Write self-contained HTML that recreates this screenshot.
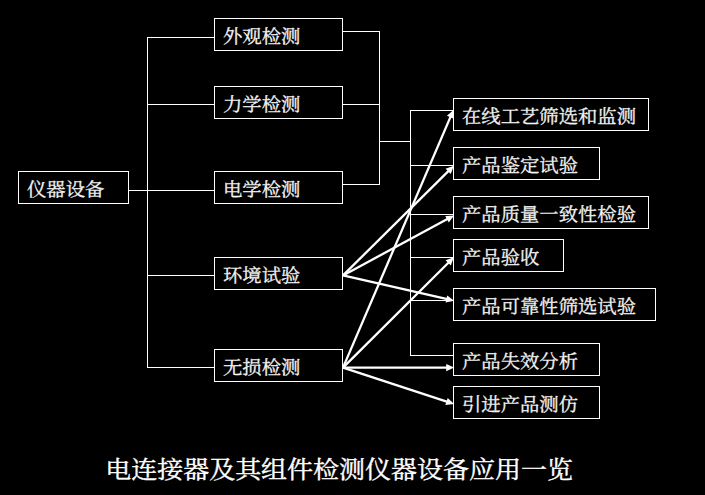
<!DOCTYPE html>
<html lang="zh-CN">
<head>
<meta charset="utf-8">
<title>电连接器及其组件检测仪器设备应用一览</title>
<style>
html,body{margin:0;padding:0;background:#000;}
body{width:705px;height:495px;overflow:hidden;position:relative;}
svg{position:absolute;left:0;top:0;display:block;}
.b{font-family:"Liberation Serif","Noto Serif CJK SC",serif;font-weight:400;font-size:19.35px;fill:#f4f4f4;stroke:#f4f4f4;stroke-width:0.32px;}
.t{font-family:"Liberation Serif","Noto Serif CJK SC",serif;font-weight:400;font-size:26px;fill:#fff;stroke:#fff;stroke-width:0.4px;}
.bx{fill:#000;stroke:#fff;stroke-width:1;shape-rendering:crispEdges;}
.ln{stroke:#fff;stroke-width:1;shape-rendering:crispEdges;fill:none;}
.ar{stroke:#fff;stroke-width:2.3;fill:none;stroke-linecap:butt;}
.ah{fill:#fff;stroke:none;}
</style>
</head>
<body>
<svg width="705" height="495" viewBox="0 0 705 495">
<rect x="0" y="0" width="705" height="495" fill="#000"/>

<g class="ln">
<line x1="128" y1="190.5" x2="215" y2="190.5"/>
<line x1="147" y1="37.5" x2="215" y2="37.5"/>
<line x1="147" y1="104.5" x2="215" y2="104.5"/>
<line x1="147" y1="275.5" x2="215" y2="275.5"/>
<line x1="147" y1="367.5" x2="215" y2="367.5"/>
<line x1="342" y1="31.5" x2="380" y2="31.5"/>
<line x1="342" y1="104.5" x2="380" y2="104.5"/>
<line x1="342" y1="184.5" x2="380" y2="184.5"/>
<line x1="379" y1="141.5" x2="411" y2="141.5"/>
<line x1="410" y1="110.5" x2="454" y2="110.5"/>
<line x1="410" y1="165.5" x2="454" y2="165.5"/>
<line x1="410" y1="214.5" x2="454" y2="214.5"/>
<line x1="410" y1="257.5" x2="454" y2="257.5"/>
<line x1="410" y1="300.5" x2="454" y2="300.5"/>
<line x1="410" y1="355.5" x2="454" y2="355.5"/>
<line x1="147.5" y1="37" x2="147.5" y2="368"/>
<line x1="379.5" y1="31" x2="379.5" y2="185"/>
<line x1="410.5" y1="110" x2="410.5" y2="356"/>
</g>
<g>
<rect class="bx" x="18.5" y="171.5" width="110" height="32"/>
<rect class="bx" x="214.5" y="18.5" width="128" height="32"/>
<rect class="bx" x="214.5" y="86.5" width="128" height="32"/>
<rect class="bx" x="214.5" y="171.5" width="128" height="32"/>
<rect class="bx" x="214.5" y="257.5" width="128" height="32"/>
<rect class="bx" x="214.5" y="349.5" width="128" height="32"/>
<rect class="bx" x="453.5" y="98.5" width="195" height="32"/>
<rect class="bx" x="453.5" y="147.5" width="146" height="32"/>
<rect class="bx" x="453.5" y="196.5" width="195" height="32"/>
<rect class="bx" x="453.5" y="239.5" width="110" height="32"/>
<rect class="bx" x="453.5" y="288.5" width="202" height="32"/>
<rect class="bx" x="453.5" y="343.5" width="146" height="32"/>
<rect class="bx" x="453.5" y="386.5" width="146" height="32"/>
</g>
<g>
<line class="ar" x1="343" y1="275.4" x2="448.88" y2="170.68"/>
<polygon class="ah" points="453.85,165.76 450.77,174.01 445.56,168.75"/>
<line class="ar" x1="343" y1="275.4" x2="447.89" y2="218.85"/>
<polygon class="ah" points="454.06,215.53 448.77,222.58 445.26,216.07"/>
<line class="ar" x1="343" y1="275.4" x2="447.35" y2="299.21"/>
<polygon class="ah" points="454.17,300.77 445.55,302.59 447.19,295.38"/>
<line class="ar" x1="343" y1="367.6" x2="450.71" y2="116.33"/>
<polygon class="ah" points="453.47,109.90 453.72,118.71 446.92,115.79"/>
<line class="ar" x1="343" y1="367.6" x2="448.89" y2="262.29"/>
<polygon class="ah" points="453.85,257.35 450.79,265.62 445.57,260.37"/>
<line class="ar" x1="343" y1="367.6" x2="447.20" y2="367.60"/>
<polygon class="ah" points="454.20,367.60 446.20,371.30 446.20,363.90"/>
<line class="ar" x1="343" y1="367.6" x2="447.49" y2="401.89"/>
<polygon class="ah" points="454.14,404.07 445.39,405.10 447.69,398.06"/>
</g>
<g class="b">
<text transform="translate(27.0,195.80) scale(1,0.935)">仪器设备</text>
<text transform="translate(223.0,42.80) scale(1,0.935)">外观检测</text>
<text transform="translate(223.0,110.80) scale(1,0.935)">力学检测</text>
<text transform="translate(223.0,195.80) scale(1,0.935)">电学检测</text>
<text transform="translate(223.0,281.80) scale(1,0.935)">环境试验</text>
<text transform="translate(223.0,373.80) scale(1,0.935)">无损检测</text>
<text transform="translate(462.0,122.80) scale(1,0.935)">在线工艺筛选和监测</text>
<text transform="translate(462.0,171.80) scale(1,0.935)">产品鉴定试验</text>
<text transform="translate(462.0,220.80) scale(1,0.935)">产品质量一致性检验</text>
<text transform="translate(462.0,263.80) scale(1,0.935)">产品验收</text>
<text transform="translate(462.0,312.80) scale(1,0.935)">产品可靠性筛选试验</text>
<text transform="translate(462.0,367.80) scale(1,0.935)">产品失效分析</text>
<text transform="translate(462.0,410.80) scale(1,0.935)">引进产品测仿</text>
</g>
<text class="t" transform="translate(105.2,478.3) scale(1,0.935)">电连接器及其组件检测仪器设备应用一览</text>
</svg>
</body>
</html>
